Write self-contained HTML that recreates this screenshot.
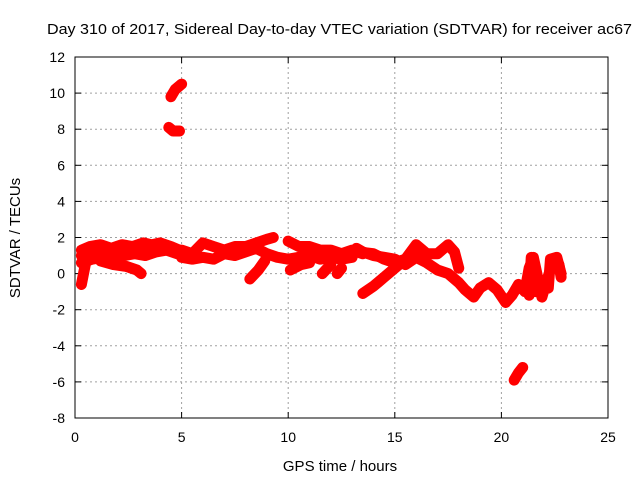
<!DOCTYPE html>
<html><head><meta charset="utf-8"><style>
body{margin:0;background:#fff;}
svg{display:block;font-family:"Liberation Sans",sans-serif;}
</style></head><body>
<svg id="chart" width="640" height="480" viewBox="0 0 640 480">
<rect x="0" y="0" width="640" height="480" fill="#fff"/>
<text x="47" y="34" textLength="585" lengthAdjust="spacingAndGlyphs" font-size="15">Day 310 of 2017, Sidereal Day-to-day VTEC variation (SDTVAR) for receiver ac67</text>
<text x="340" y="471" text-anchor="middle" font-size="15">GPS time / hours</text>
<text transform="translate(20,238) rotate(-90)" text-anchor="middle" font-size="15">SDTVAR / TECUs</text>
<g id="grid"></g><g id="axes"></g><g id="data"></g>
</svg>
<script>
const xTicks=[0,5,10,15,20,25];
const yTicks=[-8,-6,-4,-2,0,2,4,6,8,10,12];
const trackUpperA=[[0.3,1.3],[0.7,1.5],[1.2,1.6],[1.7,1.4],[2.2,1.6],[2.7,1.5],[3.2,1.7],[3.6,1.6],[4.0,1.7],[4.5,1.5],[4.9,1.3]];
const trackMidA=[[0.3,1.0],[0.8,1.1],[1.3,1.2],[1.8,1.2],[2.3,1.3],[2.8,1.3],[3.3,1.3],[3.8,1.4],[4.3,1.4],[4.8,1.2]];
const trackLowerA=[[0.3,0.6],[0.8,0.8],[1.3,0.9],[1.8,1.0],[2.3,1.0],[2.8,1.1],[3.3,1.0],[3.8,1.2],[4.3,1.3],[4.8,1.1]];
const trackDipA=[[1.2,0.7],[1.8,0.5],[2.4,0.4],[2.9,0.2],[3.1,0.0]];
const trackStart=[[0.3,-0.6],[0.4,0.0],[0.5,0.6]];
const trackUpperB=[[5,1.3],[5.5,1.1],[6,1.7],[6.5,1.5],[7,1.3],[7.5,1.5],[8,1.5],[8.5,1.7],[9,1.9],[9.3,2.0]];
const trackLowerB=[[5,0.9],[5.5,0.8],[6,0.9],[6.5,0.8],[7,1.1],[7.5,1.0],[8,1.2],[8.5,1.4],[9,1.1],[9.5,0.9],[10,0.8]];
const trackDipB=[[8.2,-0.3],[8.6,0.2],[8.9,0.7]];
const trackUpperC=[[10,1.8],[10.5,1.5],[11,1.5],[11.5,1.3],[12,1.3],[12.5,1.1],[13,1.3],[13.5,1.1]];
const trackLowerC=[[10,0.8],[10.5,0.9],[11,1.0],[11.5,0.8],[12,0.9],[12.5,0.8],[13,0.9]];
const trackDipC1=[[10.1,0.2],[10.6,0.5],[11,0.6]];
const trackDipC2=[[11.6,0.0],[12,0.5]];
const trackDipC3=[[12.3,0.0],[12.5,0.3]];
const trackMainD=[[13.2,1.4],[13.5,1.2],[14,1.0],[14.5,0.9],[15,0.8],[15.5,0.5],[16,0.9],[16.5,0.6],[17,0.2],[17.5,0.0],[18,-0.5],[18.3,-0.9],[18.7,-1.3],[19.0,-0.8],[19.4,-0.5],[19.8,-0.9],[20.2,-1.6],[20.5,-1.2],[20.8,-0.6],[21.1,-1.0],[21.3,0.3],[21.5,0.9],[21.7,-0.2],[21.9,-1.3],[22.1,-0.5],[22.4,0.6],[22.7,0.5],[22.8,-0.2]];
const trackUpperD=[[13.3,1.2],[14,1.1],[14.5,0.8],[15,0.6],[15.5,0.8],[16,1.6],[16.5,1.1],[17,1.1],[17.5,1.6],[17.8,1.2],[18,0.3]];
const trackRiseD=[[13.5,-1.1],[14,-0.7],[14.5,-0.2],[15,0.3],[15.5,0.8]];
const trackBlob1=[[21.3,-1.2],[21.4,0.9],[21.6,-1.0]];
const trackBlob2=[[22.2,-0.8],[22.3,0.8],[22.6,0.9],[22.8,0.0]];
const outlierHigh1=[[4.4,8.1],[4.6,7.9],[4.9,7.9]];
const outlierHigh2=[[4.5,9.8],[4.7,10.2],[5.0,10.5]];
const outlierLow=[[20.6,-5.9],[20.8,-5.5],[21.0,-5.2]];
const tracks=[trackUpperA,trackMidA,trackLowerA,trackDipA,trackStart,trackUpperB,trackLowerB,trackDipB,trackUpperC,trackLowerC,trackDipC1,trackDipC2,trackDipC3,trackMainD,trackUpperD,trackRiseD,trackBlob1,trackBlob2,outlierHigh1,outlierHigh2,outlierLow];
const L=75,R=608,T=57,B=418;
const sx=v=>L+(v-0)/(25-0)*(R-L);
const sy=v=>B-(v+8)/(20)*(B-T);
const NS="http://www.w3.org/2000/svg";
const grid=document.getElementById('grid'),axes=document.getElementById('axes'),data=document.getElementById('data');
function mk(tag,attrs,parent){const e=document.createElementNS(NS,tag);for(const k in attrs)e.setAttribute(k,attrs[k]);parent.appendChild(e);return e;}
xTicks.forEach(t=>{const x=sx(t);
 if(t>0&&t<25){const g=mk('line',{x1:x,y1:T,x2:x,y2:B,stroke:'#a0a0a0','stroke-dasharray':'2,3'},grid);}
 mk('line',{x1:x,y1:B,x2:x,y2:B-6,stroke:'#000'},axes);mk('line',{x1:x,y1:T,x2:x,y2:T+6,stroke:'#000'},axes);
 const tx=mk('text',{x:x,y:B+24,'text-anchor':'middle','font-size':'14'},axes);tx.textContent=t;
 });
yTicks.forEach(t=>{const y=sy(t);
 if(t>-8&&t<12){const g=mk('line',{x1:L,y1:y,x2:R,y2:y,stroke:'#a0a0a0','stroke-dasharray':'2,3'},grid);}
 mk('line',{x1:L,y1:y,x2:L+6,y2:y,stroke:'#000'},axes);mk('line',{x1:R,y1:y,x2:R-6,y2:y,stroke:'#000'},axes);
 const tx=mk('text',{x:L-10,y:y+5,'text-anchor':'end','font-size':'14'},axes);tx.textContent=t;
 });
const frame=mk('rect',{x:L,y:T,width:R-L,height:B-T,fill:'none',stroke:'#000'},axes);

tracks.forEach(tr=>{
 const pl=mk('polyline',{points:tr.map(p=>sx(p[0])+','+sy(p[1])).join(' '),fill:'none',stroke:'#f00','stroke-width':11,'stroke-linejoin':'round','stroke-linecap':'round'},data);
 
 tr.forEach(p=>{const x=sx(p[0]),y=sy(p[1]);
  const m=mk('path',{d:`M${x-4},${y}H${x+4}M${x},${y-4}V${y+4}`,stroke:'#f00','stroke-width':1.5},data);
  });
});
</script>
</body></html>
